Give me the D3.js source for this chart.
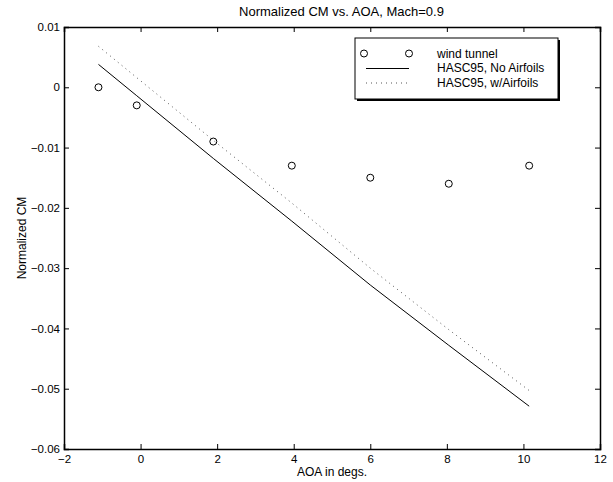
<!DOCTYPE html>
<html>
<head>
<meta charset="utf-8">
<script src="https://cdnjs.cloudflare.com/ajax/libs/d3/7.8.5/d3.min.js"></script>
<style>
  body { margin: 0; background: #fff; }
  svg text { font-family: "Liberation Sans", Arial, Helvetica, sans-serif; font-size: 12px; fill: #000; }
</style>
</head>
<body>
<div id="chart"></div>
<script>
// angle of attack (deg) for each sample
var aoa = [-1.1, -0.1, 1.9, 3.95, 6.0, 8.05, 10.15];
// wind tunnel measurements
var windTunnel = [0, -0.003, -0.009, -0.013, -0.015, -0.016, -0.013];
// HASC95 predictions
var noAirfoils = [0.0038, -0.0014, -0.0118, -0.0222, -0.0328, -0.0428, -0.0529];
var withAirfoils = [0.0068, 0.0016, -0.0088, -0.0192, -0.0300, -0.0402, -0.0503];

var xTicks = [-2, 0, 2, 4, 6, 8, 10, 12];
var yTicks = [-0.06, -0.05, -0.04, -0.03, -0.02, -0.01, 0, 0.01];
var legendLabels = ["wind tunnel", "HASC95, No Airfoils", "HASC95, w/Airfoils"];

var W = 613, H = 482;
var margin = {top: 27, right: 13, bottom: 33, left: 64},
    width = W - margin.left - margin.right,
    height = H - margin.top - margin.bottom;

var svg = d3.select("#chart").append("svg")
    .attr("width", W)
    .attr("height", H);

var g = svg.append("g")
    .attr("transform", "translate(" + margin.left + "," + margin.top + ")");

var x = d3.scaleLinear().domain([-2, 12]).range([0, width]);
var y = d3.scaleLinear().domain([-0.06, 0.01]).range([height, 0]);

var fmtY = function(d) { return d === 0 ? "0" : d3.format(".2f")(d).replace("-", "\u2212"); };

// axes, MATLAB style: ticks pointing inward, mirrored on top/right
var xAxis = d3.axisBottom(x).tickValues(xTicks).tickSize(-5).tickPadding(6)
    .tickFormat(function(d) { return String(d).replace("-", "\u2212"); });
var yAxis = d3.axisLeft(y).tickValues(yTicks).tickSize(-5).tickPadding(4).tickFormat(fmtY);

g.append("g").attr("transform", "translate(0," + height + ")").call(xAxis);
g.append("g").call(yAxis);
g.append("g").call(d3.axisTop(x).tickValues(xTicks).tickSize(-5).tickFormat(""));
g.append("g").attr("transform", "translate(" + width + ",0)")
    .call(d3.axisRight(y).tickValues(yTicks).tickSize(-5).tickFormat(""));

g.selectAll(".domain").attr("stroke", "#000").attr("stroke-width", 1.5);
g.selectAll(".tick line").attr("stroke", "#000");
g.selectAll(".tick text").style("font-size", "11.5px");

// lines
var line = d3.line()
    .x(function(d) { return x(d[0]); })
    .y(function(d) { return y(d[1]); });

g.append("path")
    .datum(d3.zip(aoa, noAirfoils))
    .attr("fill", "none")
    .attr("stroke", "#000")
    .attr("stroke-width", 1)
    .attr("d", line);

g.append("path")
    .datum(d3.zip(aoa, withAirfoils))
    .attr("fill", "none")
    .attr("stroke", "#555")
    .attr("stroke-width", 1)
    .attr("stroke-dasharray", "1,4")
    .attr("d", line);

g.selectAll("circle.wt")
    .data(d3.zip(aoa, windTunnel))
    .enter().append("circle")
    .attr("class", "wt")
    .attr("cx", function(d) { return x(d[0]); })
    .attr("cy", function(d) { return y(d[1]); })
    .attr("r", 3.5)
    .attr("fill", "none")
    .attr("stroke", "#000")
    .attr("stroke-width", 1);

// title and labels
svg.append("text")
    .attr("x", 341.5)
    .attr("y", 15.5)
    .attr("text-anchor", "middle")
    .style("font-size", "13px")
    .text("Normalized CM vs. AOA, Mach=0.9");

svg.append("text")
    .attr("x", margin.left + width / 2)
    .attr("y", 476)
    .attr("text-anchor", "middle")
    .text("AOA in degs.");

svg.append("text")
    .attr("transform", "translate(25.5," + (margin.top + height / 2) + ") rotate(-90)")
    .attr("text-anchor", "middle")
    .text("Normalized CM");

// legend
var lg = svg.append("g").attr("transform", "translate(355,38)");
var lw = 203, lh = 61;
lg.append("rect")
    .attr("x", 2).attr("y", 2)
    .attr("width", lw).attr("height", lh)
    .attr("fill", "#000");
lg.append("rect")
    .attr("width", lw).attr("height", lh)
    .attr("fill", "#fff")
    .attr("stroke", "#000")
    .attr("stroke-width", 1);

var row = lg.selectAll("g.row")
    .data(legendLabels)
    .enter().append("g")
    .attr("class", "row")
    .attr("transform", function(d, i) { return "translate(0," + (15.5 + i * 14.7) + ")"; });

row.append("text")
    .attr("x", 82)
    .attr("dy", "0.35em")
    .text(function(d) { return d; });

lg.selectAll("circle")
    .data([9, 54])
    .enter().append("circle")
    .attr("cx", function(d) { return d; })
    .attr("cy", 15.5)
    .attr("r", 3.5)
    .attr("fill", "none")
    .attr("stroke", "#000");

lg.append("line")
    .attr("x1", 11).attr("x2", 54)
    .attr("y1", 30.5).attr("y2", 30.5)
    .attr("stroke", "#000");

lg.append("line")
    .attr("x1", 11).attr("x2", 54)
    .attr("y1", 45).attr("y2", 45)
    .attr("stroke", "#555")
    .attr("stroke-dasharray", "1,4");
</script>
</body>
</html>
